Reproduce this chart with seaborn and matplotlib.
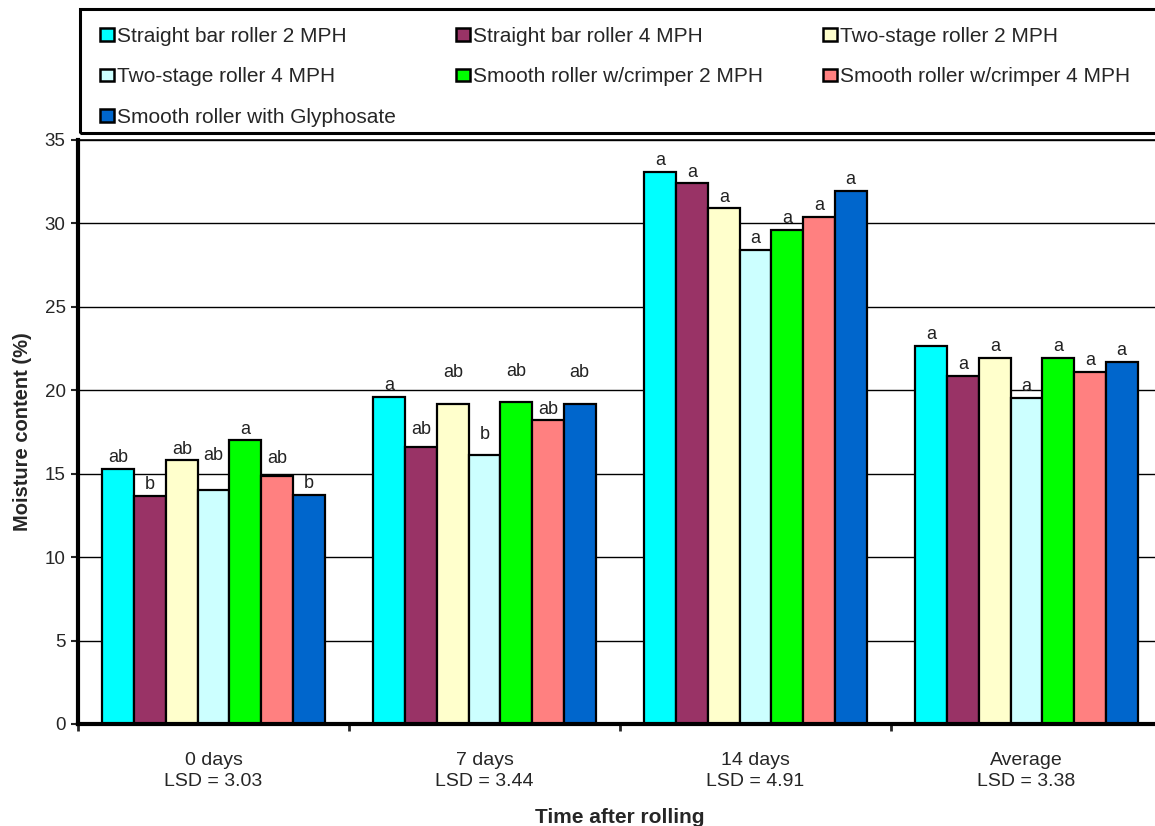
import matplotlib
matplotlib.use("Agg")
import matplotlib.pyplot as plt
from matplotlib.patches import Rectangle
import numpy as np
import pandas as pd
import seaborn as sns

# --------------------------------------------------------------------------- #
# Datos
# --------------------------------------------------------------------------- #
times = ["0 days\nLSD = 3.03", "7 days\nLSD = 3.44",
         "14 days\nLSD = 4.91", "Average\nLSD = 3.38"]
treatments = ["Straight bar roller 2 MPH", "Straight bar roller 4 MPH",
              "Two-stage roller 2 MPH", "Two-stage roller 4 MPH",
              "Smooth roller w/crimper 2 MPH", "Smooth roller w/crimper 4 MPH",
              "Smooth roller with Glyphosate"]
colors = ["#00FFFF", "#993366", "#FFFFCC", "#CCFFFF",
          "#00FF00", "#FF8080", "#0066CC"]

day0 = [15.3, 13.65, 15.8, 14.0, 17.0, 14.85, 13.75]
day7 = [19.6, 16.6, 19.15, 16.15, 19.3, 18.2, 19.15]
day14 = [33.1, 32.4, 30.9, 28.4, 29.6, 30.4, 31.95]
average = [22.65, 20.85, 21.95, 19.55, 21.95, 21.1, 21.7]

letters_day0 = ["ab", "b", "ab", "ab", "a", "ab", "b"]
letters_day7 = ["a", "ab", "ab", "b", "ab", "ab", "ab"]
letters_day14 = ["a", "a", "a", "a", "a", "a", "a"]
letters_avg = ["a", "a", "a", "a", "a", "a", "a"]

# elevación extra de algunas letras (unidades del eje y)
lift_day0 = [0, 0, 0, 1.4, 0, 0.4, 0]
lift_day7 = [0, 0.35, 1.25, 0.5, 1.15, 0, 1.25]
lift_day14 = [0, 0, 0, 0, 0, 0, 0]
lift_avg = [0, 0, 0, 0, 0, 0, 0]

values = [day0, day7, day14, average]
letters = [letters_day0, letters_day7, letters_day14, letters_avg]
lifts = [lift_day0, lift_day7, lift_day14, lift_avg]

rows = []
for t, vals in zip(times, values):
    for tr, v in zip(treatments, vals):
        rows.append({"time": t, "treatment": tr, "moisture": v})
df = pd.DataFrame(rows)

# --------------------------------------------------------------------------- #
# Estilo
# --------------------------------------------------------------------------- #
sns.set_theme(style="white")
plt.rcParams["font.family"] = ["Liberation Sans", "DejaVu Sans"]

W, H = 1155, 826
fig = plt.figure(figsize=(W / 100, H / 100), dpi=100)
ax = fig.add_axes([78 / W, 1 - 724 / H, 1084 / W, 584 / H])

sns.barplot(data=df, x="time", y="moisture", hue="treatment",
            hue_order=treatments, order=times, palette=colors,
            edgecolor="black", linewidth=1.6, width=0.82, gap=0,
            saturation=1, ax=ax, errorbar=None)

# letras de significancia
for i, cont in enumerate(ax.containers):
    for j, bar in enumerate(cont):
        h = bar.get_height()
        ax.annotate(letters[j][i],
                    (bar.get_x() + bar.get_width() / 2, h + lifts[j][i]),
                    xytext=(0, 2), textcoords="offset points",
                    ha="center", va="bottom", fontsize=13, color="#222222")

ax.set_ylim(0, 35)
ax.set_xlim(-0.5, 3.5)
ax.set_yticks(np.arange(0, 36, 5))
ax.yaxis.grid(True, color="black", linewidth=1)
ax.set_axisbelow(True)

ax.set_xticks([0, 1, 2, 3])
ax.set_xticklabels(times, fontsize=14, linespacing=1.35)
ax.set_xticks([-0.5, 0.5, 1.5, 2.5, 3.5], minor=True)
ax.tick_params(axis="x", which="major", length=0, pad=20)
ax.tick_params(axis="x", which="minor", length=5, width=2, direction="out",
               bottom=True)
ax.tick_params(axis="y", length=5, width=1.5, direction="out", left=True,
               labelsize=13.5, pad=4)

for side in ["left", "bottom"]:
    ax.spines[side].set_linewidth(3)
    ax.spines[side].set_color("black")
ax.spines["top"].set_linewidth(1.2)
ax.spines["top"].set_color("black")
ax.spines["right"].set_visible(False)

ax.set_xlabel("Time after rolling", fontsize=15, fontweight="bold", labelpad=13)
ax.set_ylabel("Moisture content (%)", fontsize=14.5, fontweight="bold", labelpad=9)

# leyenda en filas (matplotlib llena por columnas)
handles, labels = ax.get_legend_handles_labels()
ax.legend_.remove()
order = [0, 3, 6, 1, 4, 2, 5]
leg = fig.legend([handles[k] for k in order], [labels[k] for k in order],
                 ncol=3, loc="upper left",
                 bbox_to_anchor=(84 / W, 1 - 11 / H),
                 fontsize=15, frameon=False,
                 handlelength=0.7, handleheight=0.55, handletextpad=0.15,
                 labelspacing=1.04, columnspacing=2.85,
                 borderpad=0.75, borderaxespad=0)
for h in leg.legend_handles:
    h.set_edgecolor("black")
    h.set_linewidth(1.8)

# marco de la leyenda (sale por el borde derecho, como en el original)
fig.patches.append(Rectangle((80 / W, 1 - 133 / H), 1100 / W, 124 / H,
                             transform=fig.transFigure, fill=False,
                             edgecolor="black", linewidth=2.2))

fig.savefig("out.png", dpi=100)
